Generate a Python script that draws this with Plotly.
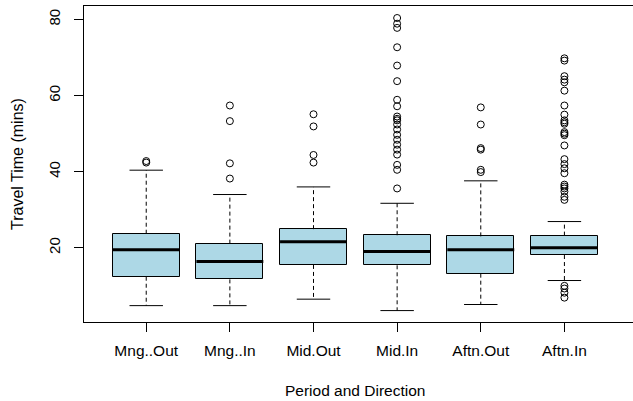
import plotly.graph_objects as go

categories = ["Mng..Out", "Mng..In", "Mid.Out", "Mid.In", "Aftn.Out", "Aftn.In"]
q1 = [12.4, 11.7, 15.5, 15.4, 13.2, 18.1]
median = [19.5, 16.4, 21.6, 19.0, 19.5, 20.0]
q3 = [23.7, 21.1, 24.9, 23.3, 23.0, 23.2]
lower_whisker = [4.8, 4.8, 6.5, 3.5, 5.1, 11.4]
upper_whisker = [40.4, 34.0, 36.0, 31.7, 37.6, 26.9]
outliers = [
    [42.4, 42.8],
    [57.4, 53.3, 42.2, 38.2],
    [55.1, 51.9, 44.4, 42.4],
    [80.4, 78.9, 77.8, 72.7, 67.9, 63.8, 58.9, 57.2, 54.5, 53.9, 53.5, 52.4,
     51.1, 49.7, 48.4, 47.1, 45.8, 44.5, 41.8, 40.5, 35.6],
    [56.9, 52.4, 46.2, 45.8, 40.5, 39.9],
    [69.8, 69.2, 65.1, 64.2, 63.5, 61.3, 57.4, 55.0, 53.5, 53.0, 52.6, 50.4,
     50.0, 49.6, 46.9, 43.3, 42.0, 40.9, 39.6, 36.6, 36.1, 35.6, 34.8, 33.4,
     32.6, 10.0, 9.3, 8.2, 6.9],
]

pos = list(range(1, len(categories) + 1))
BW = 0.8
CAP = 0.2

fig = go.Figure()

# whiskers (dashed)
wx, wy = [], []
for i, p in enumerate(pos):
    wx += [p, p, None, p, p, None]
    wy += [q3[i], upper_whisker[i], None, q1[i], lower_whisker[i], None]
fig.add_trace(go.Scatter(x=wx, y=wy, mode="lines",
                         line=dict(color="black", width=1, dash="4px,3px"),
                         hoverinfo="skip", showlegend=False))

# caps
cx, cy = [], []
for i, p in enumerate(pos):
    cx += [p - CAP, p + CAP, None, p - CAP, p + CAP, None]
    cy += [upper_whisker[i], upper_whisker[i], None, lower_whisker[i], lower_whisker[i], None]
fig.add_trace(go.Scatter(x=cx, y=cy, mode="lines",
                         line=dict(color="black", width=1),
                         hoverinfo="skip", showlegend=False))

# boxes
fig.add_trace(go.Bar(x=pos, y=[q3[i] - q1[i] for i in range(len(pos))], base=q1,
                     width=BW, marker=dict(color="#ADD8E6", line=dict(color="black", width=1)),
                     showlegend=False, hoverinfo="skip"))

# medians
mx, my = [], []
for i, p in enumerate(pos):
    mx += [p - BW / 2, p + BW / 2, None]
    my += [median[i], median[i], None]
fig.add_trace(go.Scatter(x=mx, y=my, mode="lines",
                         line=dict(color="black", width=3),
                         hoverinfo="skip", showlegend=False))

# outliers
ox, oy = [], []
for i, p in enumerate(pos):
    ox += [p] * len(outliers[i])
    oy += outliers[i]
fig.add_trace(go.Scatter(x=ox, y=oy, mode="markers",
                         marker=dict(symbol="circle-open", size=7, color="black",
                                     line=dict(width=1, color="black")),
                         showlegend=False))

font = dict(family="Liberation Sans, Arial, sans-serif", size=15, color="black")

fig.update_layout(
    width=633, height=401,
    margin=dict(l=84, r=0, t=6, b=79),
    paper_bgcolor="white", plot_bgcolor="white",
    font=font,
    bargap=0,
    xaxis=dict(range=[0.256, 6.82], tickvals=pos, ticktext=categories,
               ticks="outside", ticklen=9, tickcolor="black",
               showline=True, linecolor="black", linewidth=1, mirror=True,
               showgrid=False, zeroline=False, automargin=False,
               ticklabelstandoff=5, tickfont=dict(size=15.5)),
    yaxis=dict(range=[0.5, 83.55], tickvals=[20, 40, 60, 80],
               ticks="outside", ticklen=9, tickcolor="black", tickangle=-90,
               showline=True, linecolor="black", linewidth=1,
               showgrid=False, zeroline=False, automargin=False,
               ticklabelstandoff=8),
    annotations=[
        dict(text="Period and Direction", xref="paper", yref="paper",
             x=(355 - 84) / 549, y=0, yshift=-68, xanchor="center", yanchor="middle",
             showarrow=False, font=dict(size=15.5)),
        dict(text="Travel Time (mins)", xref="paper", yref="paper",
             x=0, y=0.5, xshift=-67, xanchor="center", yanchor="middle",
             textangle=-90, showarrow=False, font=dict(size=16)),
    ],
)

fig.write_html("out.html", config={"displayModeBar": False},
               post_script="document.body.style.margin='0px';document.body.style.overflow='hidden';")
